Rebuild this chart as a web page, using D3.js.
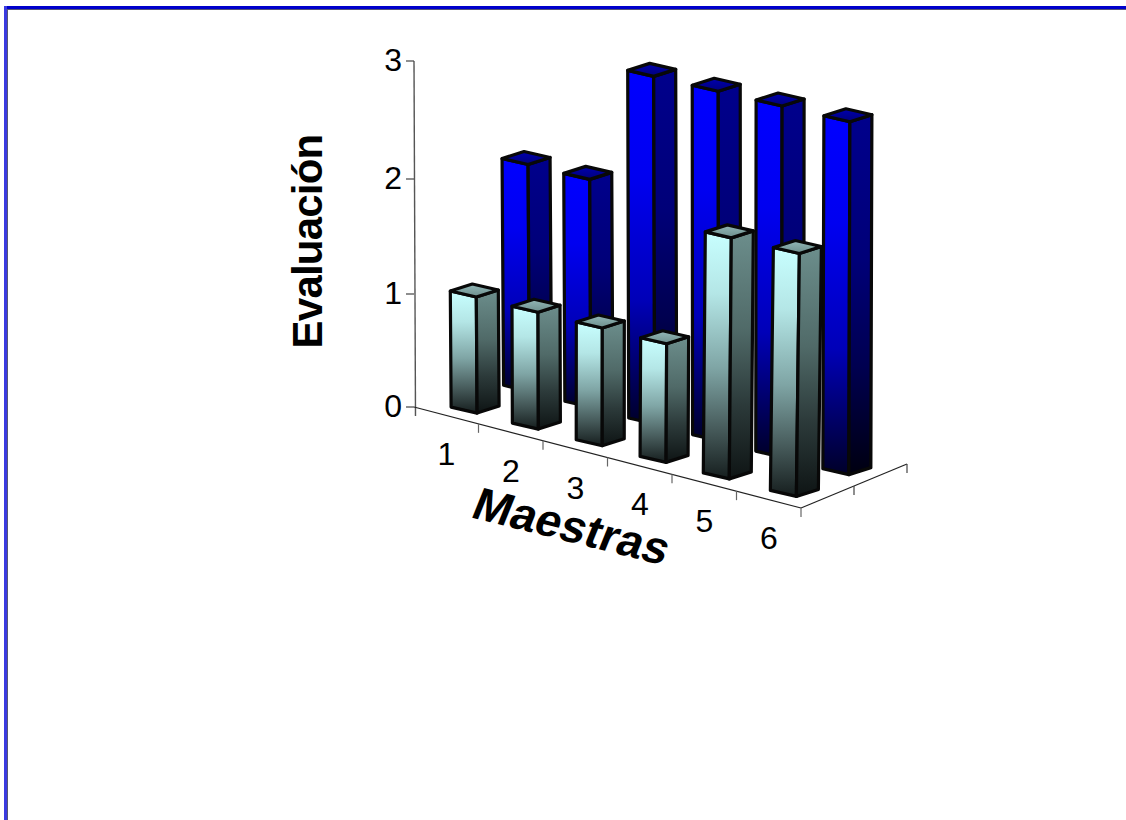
<!DOCTYPE html>
<html>
<head>
<meta charset="utf-8">
<script src="https://cdn.jsdelivr.net/npm/d3@7"></script>
<style>
  html, body { margin: 0; padding: 0; background: #fff; }
  svg { display: block; }
  text { font-family: "Liberation Sans", Arial, sans-serif; fill: #000; }
</style>
</head>
<body>
<div id="chart"></div>
<script>
// Data
var categories = ["1", "2", "3", "4", "5", "6"];
var frontValues = [1, 1, 1, 1, 2, 2];
var backValues = [2, 2, 3, 3, 3, 3];
var yTicks = [0, 1, 2, 3];

var width = 1126, height = 820;

var svg = d3.select("#chart").append("svg")
  .attr("width", width)
  .attr("height", height);

// Floor of the 3D box: u runs along the categories, v runs into the depth
var uX = d3.scaleLinear().domain([0, categories.length]).range([0, 387]);
var uY = d3.scaleLinear().domain([0, categories.length]).range([0, 101]);
var vX = d3.scaleLinear().domain([0, 2]).range([0, 106]);
var vY = d3.scaleLinear().domain([0, 2]).range([0, -44]);
var origin = [414, 407];

function floor(u, v) {
  return [origin[0] + uX(u) + vX(v), origin[1] + uY(u) + vY(v)];
}

// where the front corner of each bar sits along the categories
var barU = d3.scaleOrdinal().domain(d3.range(categories.length))
  .range([0.74, 1.69, 2.68, 3.67, 4.65, 5.69]);

// Y axis on screen is slightly compressed towards the top
var yAxisScale = d3.scaleLinear().domain(yTicks).range([407, 294, 179, 61]);
var barHeight = d3.scaleLinear().domain(yTicks).range([0, 113, 228, 346]);

// ---- gradients
var defs = svg.append("defs");
function addGradient(id, stops) {
  var g = defs.append("linearGradient").attr("id", id)
    .attr("x1", 0).attr("y1", 0).attr("x2", 0).attr("y2", 1);
  stops.forEach(function(s) {
    g.append("stop").attr("offset", s[0]).attr("stop-color", s[1]);
  });
}
addGradient("blueFront", [[0, "#0000ff"], [0.3, "#0000f0"], [0.65, "#0000b8"], [1, "#000028"]]);
addGradient("blueSide", [[0, "#00008c"], [0.4, "#000078"], [0.7, "#000050"], [1, "#000010"]]);
addGradient("blueTop", [[0, "#0000b0"], [1, "#00007a"]]);
addGradient("paleFront", [[0, "#c8ffff"], [0.25, "#b4e6e6"], [0.55, "#7fa5a5"], [0.8, "#465a5a"], [1, "#161e1e"]]);
addGradient("paleSide", [[0, "#6c8e8c"], [0.4, "#506a68"], [0.7, "#2c3a3a"], [1, "#0e1414"]]);
addGradient("paleTop", [[0, "#93b8b8"], [1, "#6c8e8c"]]);

// ---- axes
var axes = svg.append("g").attr("fill", "none").attr("stroke", "#222").attr("stroke-width", 1.2);
var corner = floor(categories.length, 0), far = floor(categories.length, 2);

axes.append("line").attr("x1", origin[0]).attr("y1", yAxisScale(3))
  .attr("x2", origin[0] + 1.5).attr("y2", origin[1] + 9).attr("stroke", "#555").attr("stroke-width", 1.4);
axes.append("line").attr("x1", origin[0]).attr("y1", origin[1]).attr("x2", corner[0]).attr("y2", corner[1]);
axes.append("line").attr("x1", corner[0]).attr("y1", corner[1]).attr("x2", far[0]).attr("y2", far[1]);

axes.selectAll(".ytick").data(yTicks).enter().append("line")
  .attr("x1", origin[0] - 8).attr("x2", origin[0])
  .attr("y1", d => yAxisScale(d)).attr("y2", d => yAxisScale(d))
  .attr("stroke", "#444");

axes.selectAll(".xtick").data(d3.range(1, categories.length + 1)).enter().append("line")
  .attr("x1", d => floor(d, 0)[0]).attr("x2", d => floor(d, 0)[0])
  .attr("y1", d => floor(d, 0)[1]).attr("y2", d => floor(d, 0)[1] + 9)
  .attr("stroke", "#666");

axes.selectAll(".ztick").data([1, 2]).enter().append("line")
  .attr("x1", d => floor(categories.length, d)[0]).attr("x2", d => floor(categories.length, d)[0])
  .attr("y1", d => floor(categories.length, d)[1]).attr("y2", d => floor(categories.length, d)[1] + 9)
  .attr("stroke", "#444");

// ---- bars, back row first
function makeBars(values, v, name, lean, nearness) {
  return values.map(function(val, i) {
    var p = floor(barU(i), v);
    var h = barHeight(val) * nearness(p[1]);
    return { name: name, x: p[0], y: p[1], h: h, lean: lean[0] * h * (p[0] - lean[1]) };
  });
}

function drawBars(bars) {
  var g = svg.append("g").selectAll("g").data(bars).enter().append("g")
    .attr("stroke", "#080808").attr("stroke-width", 3.2).attr("stroke-linejoin", "round");

  function poly(d, pts) {
    return d3.line()(pts.map(function(q) {
      return q[2] ? [d.x + d.lean + q[0], d.y - d.h + q[1]] : [d.x + q[0], d.y + q[1]];
    })) + "Z";
  }
  // footprint offsets from the front corner, q[2] = 1 means on the top of the bar
  g.append("path").attr("fill", d => "url(#" + d.name + "Front)")
    .attr("d", d => poly(d, [[-26, -6, 1], [0, 0, 1], [0, 0, 0], [-26, -6, 0]]));
  g.append("path").attr("fill", d => "url(#" + d.name + "Side)")
    .attr("d", d => poly(d, [[0, 0, 1], [22, -7, 1], [22, -7, 0], [0, 0, 0]]));
  g.append("path").attr("fill", d => "url(#" + d.name + "Top)")
    .attr("d", d => poly(d, [[-26, -6, 1], [-4, -13, 1], [22, -7, 1], [0, 0, 1]]));
}

// bars nearer to the viewer draw a little taller
drawBars(makeBars(backValues, 1.28, "blue", [3e-5, 750],
  d3.scaleLinear().domain([392, 475]).range([0.995, 1.02])));
drawBars(makeBars(frontValues, 0.29, "pale", [6e-5, 590],
  d3.scaleLinear().domain([413, 496]).range([1.027, 1.065])));

// ---- labels
svg.append("g").selectAll("text").data(yTicks).enter().append("text")
  .attr("x", 402)
  .attr("y", d => yAxisScale(d) + 10)
  .attr("text-anchor", "end")
  .attr("font-size", 32)
  .text(d => d);

svg.append("g").selectAll("text").data(categories).enter().append("text")
  .attr("x", (d, i) => floor(i + 1, 0)[0] - 32)
  .attr("y", (d, i) => floor(i + 1, 0)[1] + 41)
  .attr("text-anchor", "middle")
  .attr("font-size", 32)
  .text(d => d);

svg.append("text")
  .attr("transform", "translate(322,241.5) rotate(-90)")
  .attr("text-anchor", "middle")
  .attr("font-size", 42)
  .attr("letter-spacing", -0.8)
  .attr("font-weight", "bold")
  .text("Evaluación");

svg.append("text")
  .attr("transform", "translate(566,541) rotate(14) skewX(-8)")
  .attr("text-anchor", "middle")
  .attr("font-size", 46)
  .attr("font-weight", "bold")
  .text("Maestras");

// ---- frame, open on the right and at the bottom
var frame = svg.append("g");
frame.append("rect").attr("x", 4).attr("y", 6).attr("width", width).attr("height", 3).attr("fill", "#0000cc");
frame.append("rect").attr("x", 7).attr("y", 9).attr("width", width).attr("height", 1).attr("fill", "#555577");
frame.append("rect").attr("x", 4).attr("y", 6).attr("width", 3).attr("height", height).attr("fill", "#3a3ae0");
frame.append("rect").attr("x", 7).attr("y", 9).attr("width", 1).attr("height", height).attr("fill", "#555577");
</script>
</body>
</html>
